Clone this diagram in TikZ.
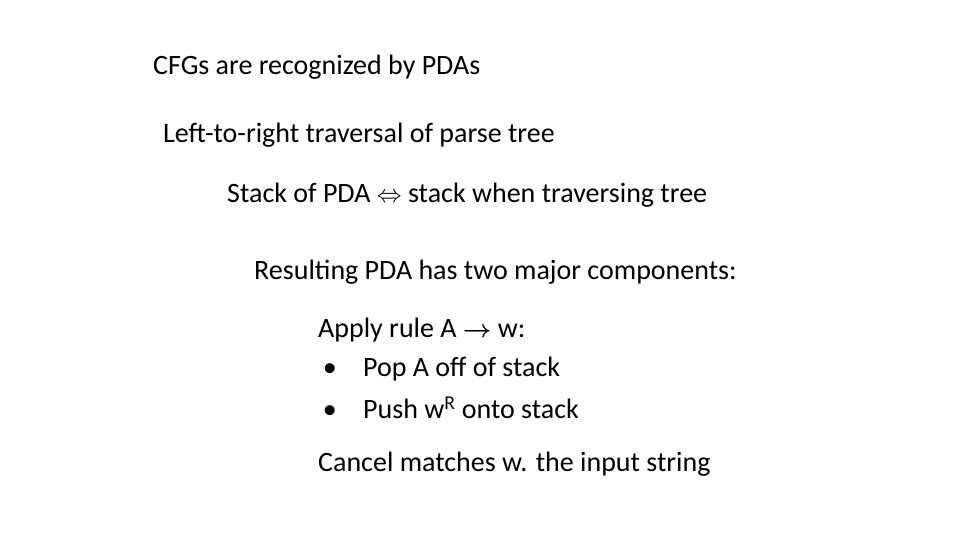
\documentclass[tikz,border=0pt]{standalone}
\usepackage{amsmath}
\usepackage{amssymb}
\usepackage{fontspec}
\setmainfont{Carlito}
\usetikzlibrary{positioning}

\tikzset{txt/.style={anchor=west,inner sep=0pt,font=\fontsize{28}{32}\selectfont}}

\begin{document}
\begin{tikzpicture}[x=1pt,y=1pt]
\useasboundingbox (0,0) rectangle (960,540);
\node[txt] (cfg) at (153,473) {CFGs are recognized by PDAs};
\node[txt] (ltr) at (163,405) {Left-to-right traversal of parse tree};
\node[txt] (stk) at (227,345) {Stack of PDA $\Leftrightarrow$ stack when traversing tree};
\node[txt] (res) at (254,268) {Resulting PDA has two major components:};
\node[txt] (app) at (318,210) {Apply rule A $\boldsymbol{\rightarrow}$ w:};
\node[txt] (b1) at (318,171) {\makebox[45pt][l]{\,\textbullet}Pop A off of stack};
\node[txt] (b2) at (318,132) {\makebox[45pt][l]{\,\textbullet}Push w\textsuperscript{R} onto stack};
\node[txt] (can) at (318,76) {Cancel matches w. the input string};
\end{tikzpicture}
\end{document}
